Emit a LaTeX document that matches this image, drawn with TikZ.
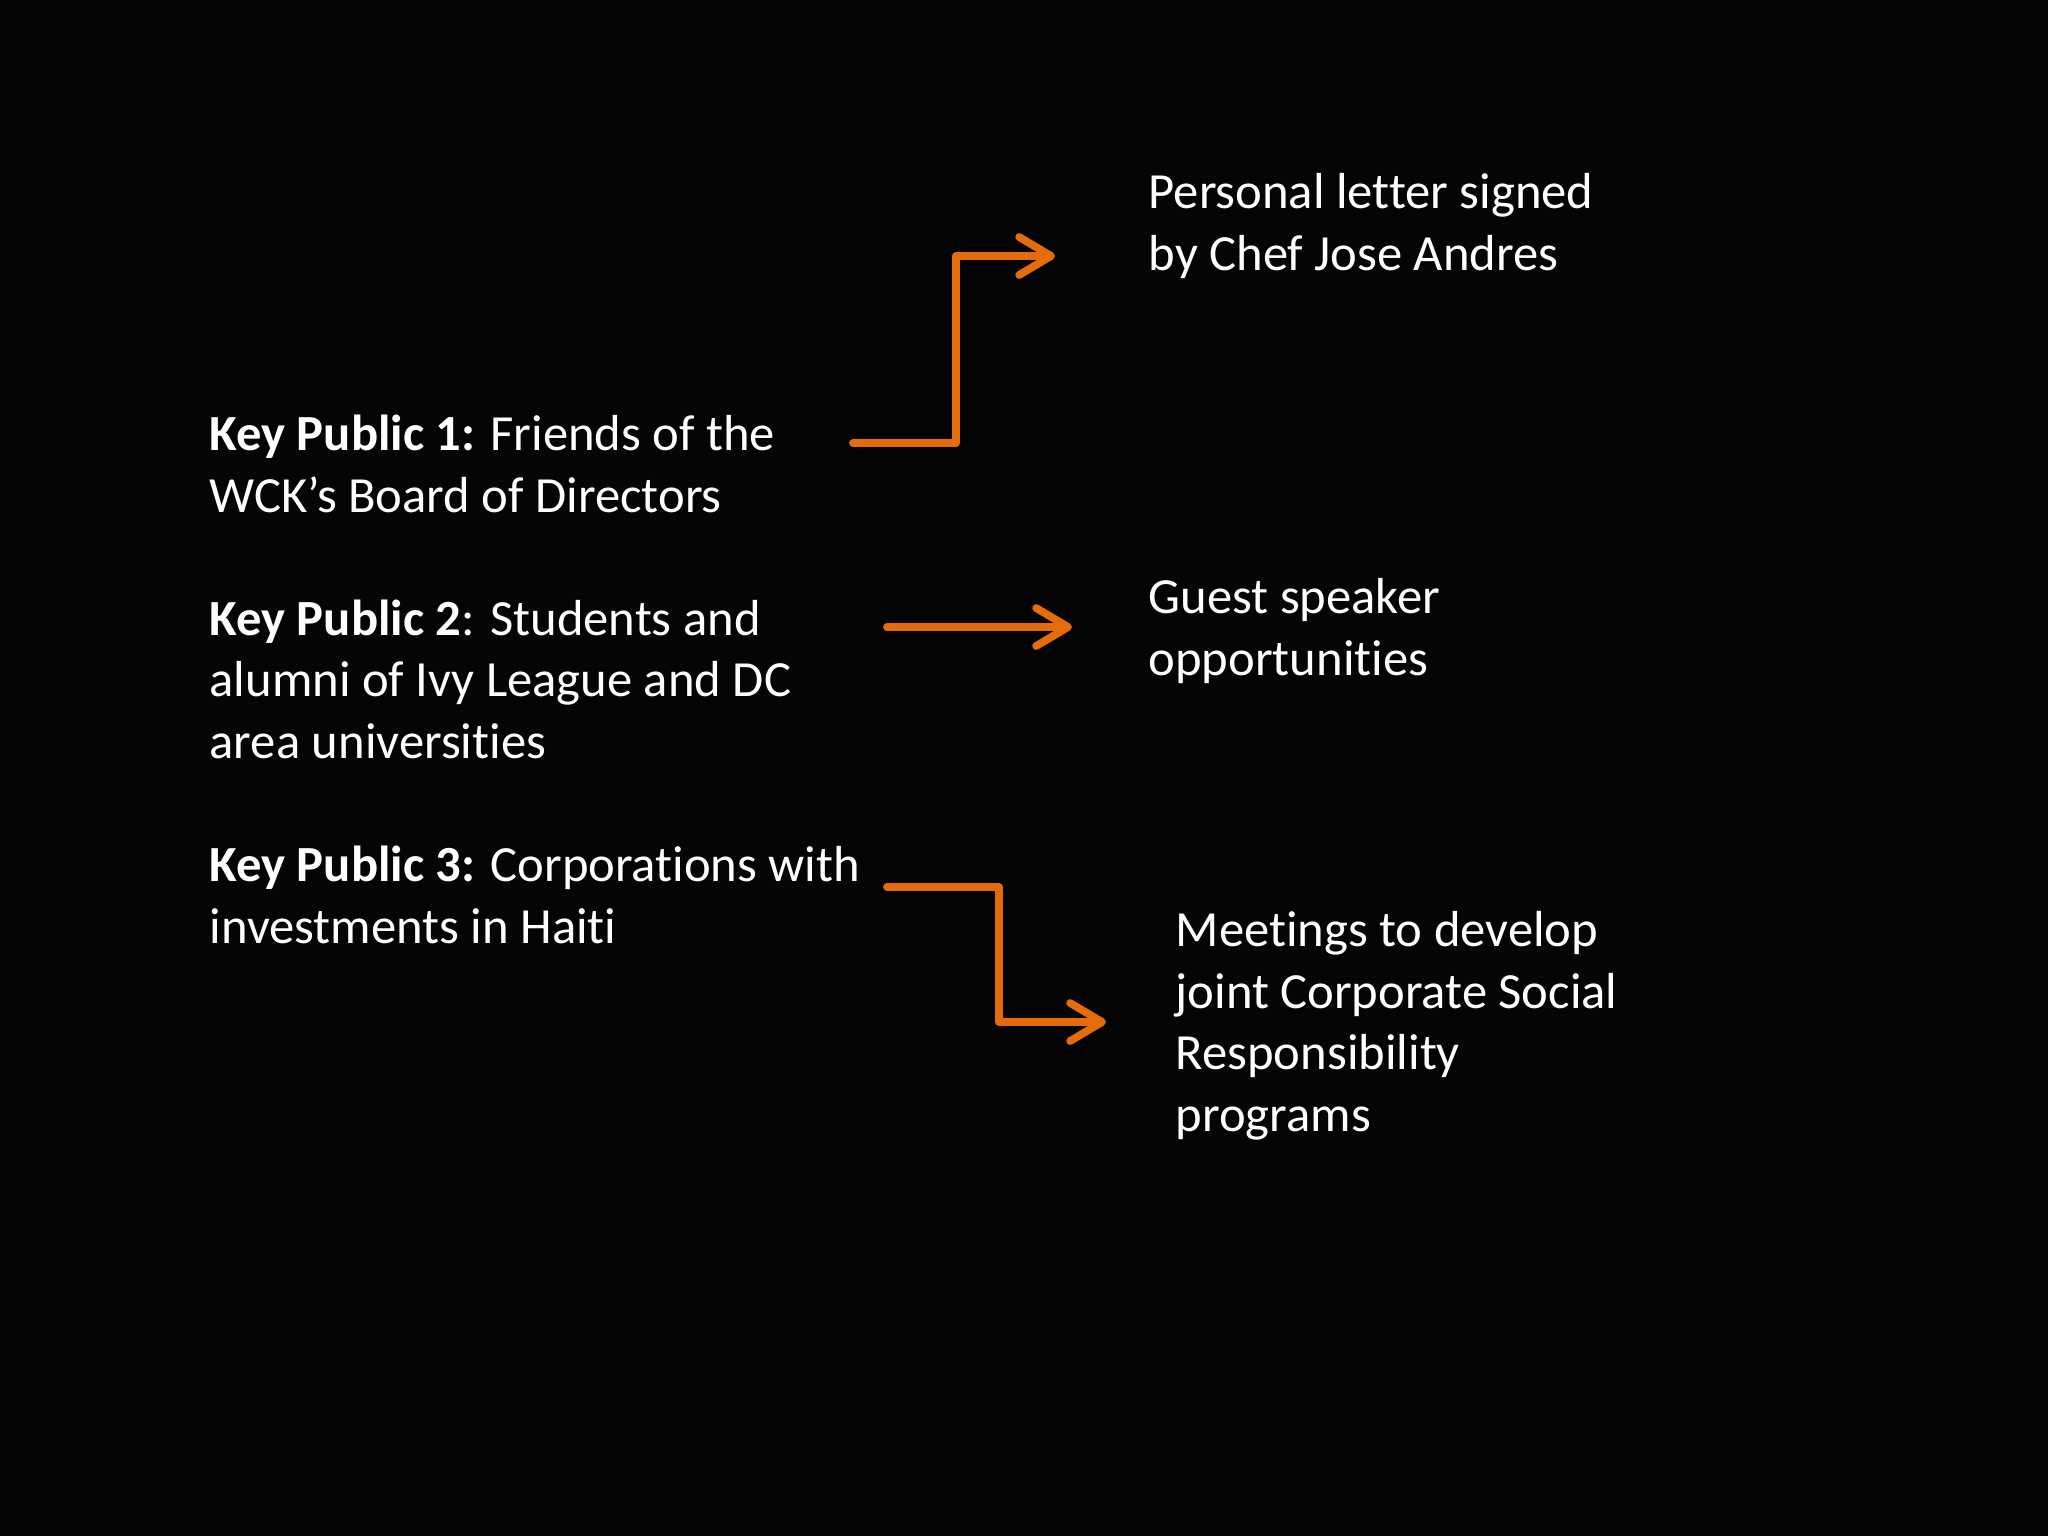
\documentclass[tikz,border=0pt]{standalone}
\usepackage{fontspec}
\setmainfont{Carlito}[Ligatures=NoCommon]
\usetikzlibrary{arrows.meta}
\definecolor{bg}{HTML}{050505}
\definecolor{arr}{HTML}{E46C0A}
\begin{document}
\begin{tikzpicture}[x=0.01cm,y=-0.01cm,
  txt/.style={text=white,anchor=base west,inner sep=0pt,align=left,
    font=\fontsize{14.4pt}{17.45pt}\selectfont},
  conn/.style={draw=arr,line width=2.2pt,line join=round,line cap=round,
    -{Straight Barb[length=3.2mm,width=3.8mm,line cap=round,line join=round]}}]
\fill[bg] (0,0) rectangle (2048,1536);
\useasboundingbox (0,0) rectangle (2048,1536);
% base anchor = baseline of the last line
\node[txt] (kp1) at (209,512) {\textbf{Key Public 1:} Friends of the\\WCK’s Board of Directors};
\node[txt] (kp2) at (209,758) {\textbf{Key Public 2}: Students and\\alumni of Ivy League and DC\\area universities};
\node[txt] (kp3) at (209,943) {\textbf{Key Public 3:} Corporations with\\investments in Haiti};
\node[txt] (r1) at (1148,270) {Personal letter signed\\by Chef Jose Andres};
\node[txt] (r2) at (1148,675) {Guest speaker\\opportunities};
\node[txt] (r3) at (1175,1131) {Meetings to develop\\joint Corporate Social\\Responsibility\\programs};
\coordinate (a1s) at (853,443);
\coordinate (a1m) at (956,350);
\coordinate (a1e) at (1055,256);
\coordinate (a2s) at (887,627);
\coordinate (a2e) at (1072,627);
\coordinate (a3s) at (887,887);
\coordinate (a3m) at (999,950);
\coordinate (a3e) at (1106,1022);
\draw[conn] (a1s) -| (a1m) |- (a1e);
\draw[conn] (a2s) -- (a2e);
\draw[conn] (a3s) -| (a3m) |- (a3e);
\end{tikzpicture}
\end{document}
